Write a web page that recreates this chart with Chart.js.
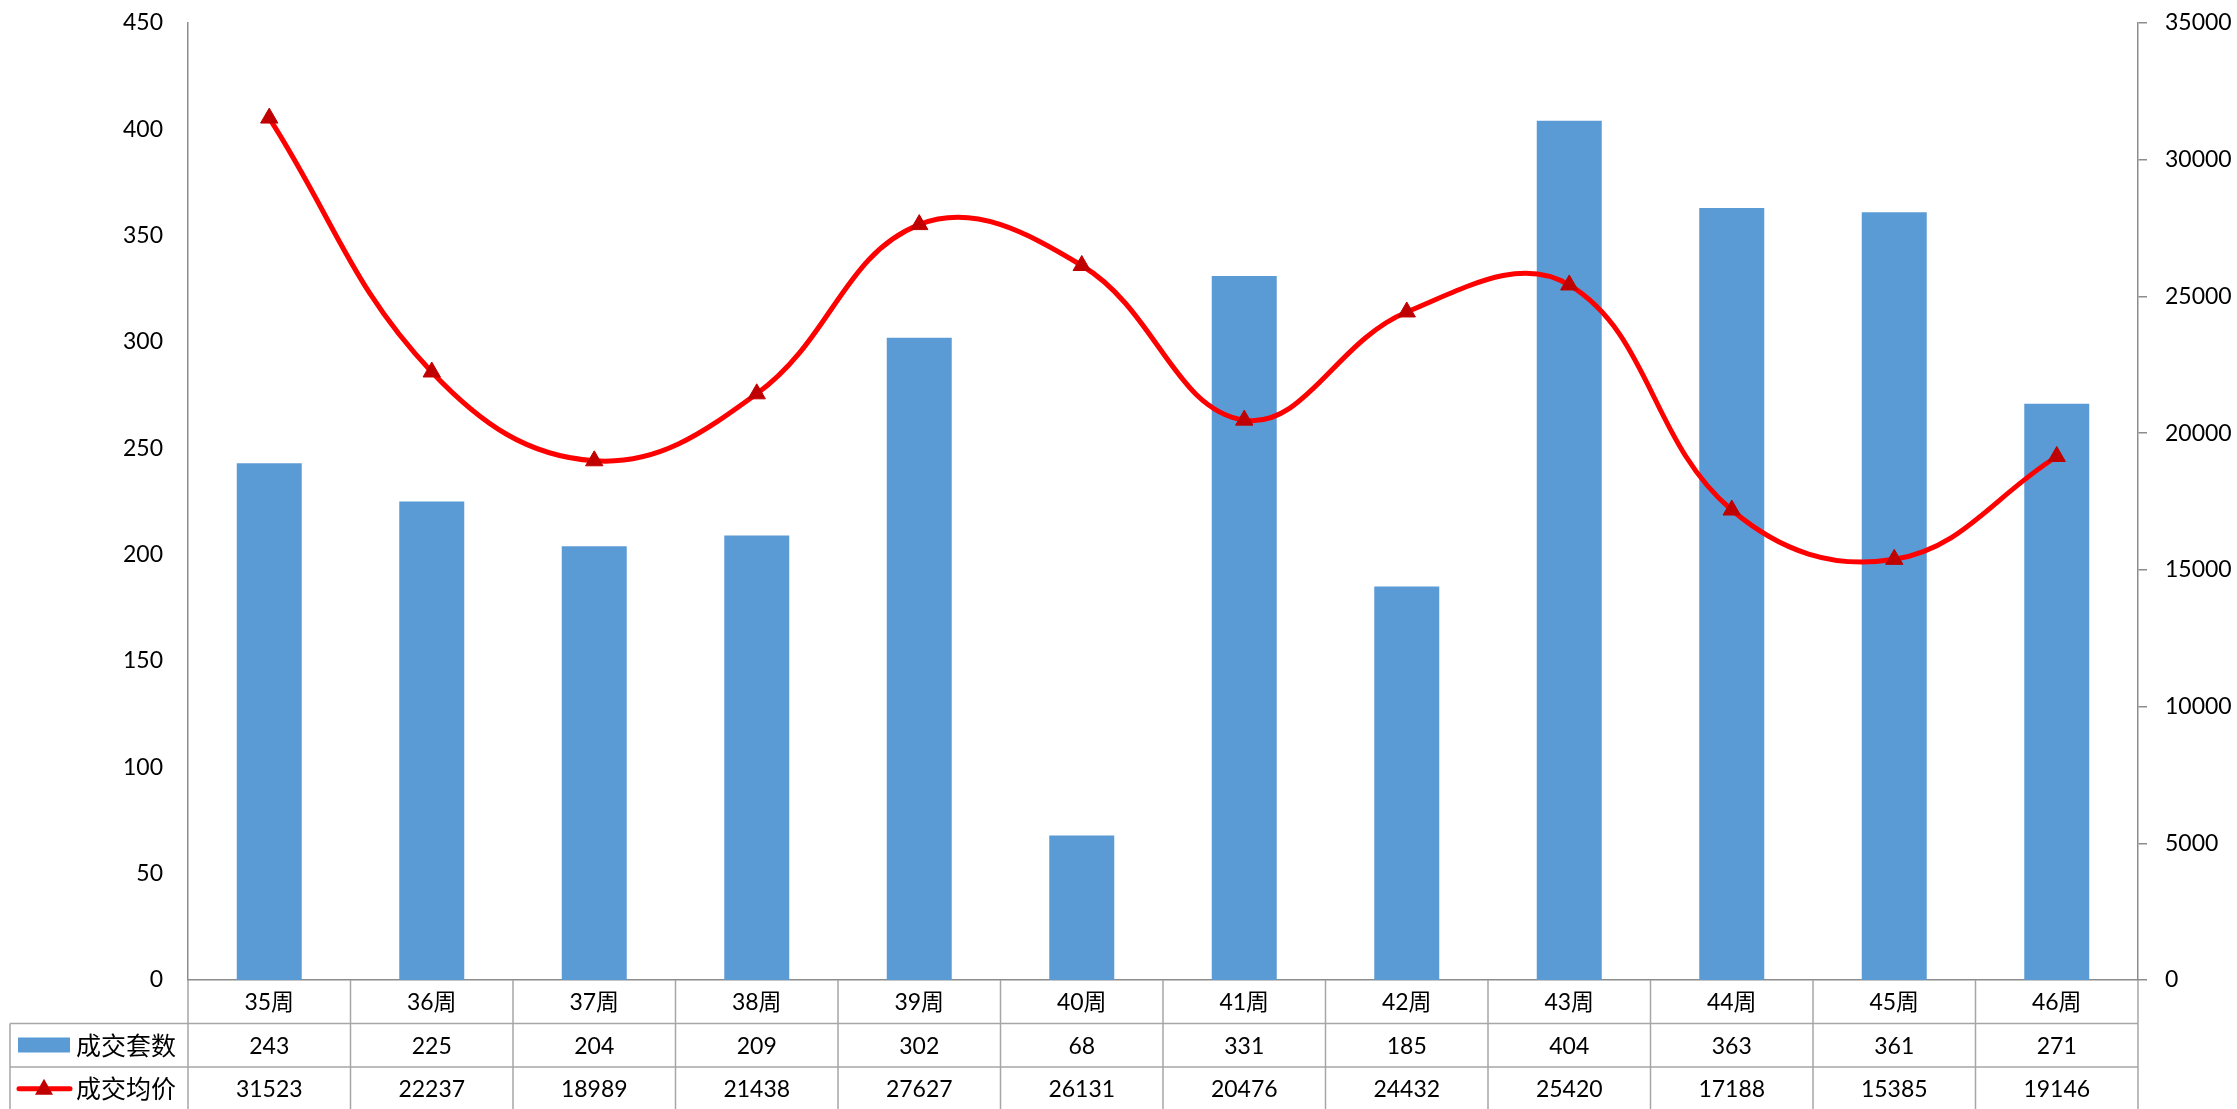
<!DOCTYPE html>
<html>
<head>
<meta charset="utf-8">
<script src="https://cdn.jsdelivr.net/npm/chart.js@4.4.1/dist/chart.umd.min.js"></script>
<style>
  body { margin: 0; background: #fff; }
  canvas { display: block; }
</style>
</head>
<body>
<canvas id="weekChart" width="2237" height="1109"></canvas>
<script>
const weeks = ['35周', '36周', '37周', '38周', '39周', '40周', '41周', '42周', '43周', '44周', '45周', '46周'];
const dealCount = [243, 225, 204, 209, 302, 68, 331, 185, 404, 363, 361, 271];
const avgPrice = [31523, 22237, 18989, 21438, 27627, 26131, 20476, 24432, 25420, 17188, 15385, 19146];
const countName = '成交套数';
const priceName = '成交均价';

const barColor = '#5B9BD5';
const lineColor = '#FF0000';
const markerColor = '#C00000';
const axisColor = '#8C8C8C';
const tableColor = '#A6A6A6';
const numFont = "23px Lato, 'Noto Sans CJK SC', sans-serif";
const cjkFont = "25px 'Noto Sans CJK SC', sans-serif";

// data table under the plot, with legend keys in the first column
const tablePlugin = {
  id: 'dataTable',
  afterDraw(chart) {
    const ctx = chart.ctx;
    const x = chart.scales.x;
    const top = chart.chartArea.bottom;
    const rowH = 43.5;
    const row1 = top + rowH;
    const row2 = top + rowH * 2;
    const bottom = chart.height;
    const tableLeft = 10;
    const colW = (x.right - x.left) / weeks.length;

    ctx.save();
    ctx.strokeStyle = tableColor;
    ctx.lineWidth = 1.5;
    ctx.beginPath();
    ctx.moveTo(tableLeft, row1); ctx.lineTo(x.right, row1);
    ctx.moveTo(tableLeft, row2); ctx.lineTo(x.right, row2);
    ctx.moveTo(tableLeft, row1); ctx.lineTo(tableLeft, bottom);
    for (let i = 0; i <= weeks.length; i++) {
      const cx = x.left + colW * i;
      ctx.moveTo(cx, top); ctx.lineTo(cx, bottom);
    }
    ctx.stroke();

    ctx.fillStyle = '#000';
    ctx.textAlign = 'center';
    ctx.textBaseline = 'middle';
    ctx.font = numFont;
    weeks.forEach((w, i) => {
      const cx = x.getPixelForValue(i);
      ctx.fillText(w, cx, top + rowH / 2 + 1);
      ctx.fillText(String(dealCount[i]), cx, row1 + rowH / 2 + 1);
      ctx.fillText(String(avgPrice[i]), cx, row2 + rowH / 2 + 1);
    });

    // legend keys
    ctx.fillStyle = barColor;
    ctx.fillRect(18, row1 + 14, 52, 15);
    const ly = row2 + rowH / 2;
    ctx.strokeStyle = lineColor;
    ctx.lineWidth = 5;
    ctx.lineCap = 'round';
    ctx.beginPath();
    ctx.moveTo(19, ly); ctx.lineTo(70, ly);
    ctx.stroke();
    ctx.fillStyle = markerColor;
    ctx.beginPath();
    ctx.moveTo(44, ly - 10);
    ctx.lineTo(53, ly + 6);
    ctx.lineTo(35, ly + 6);
    ctx.closePath();
    ctx.fill();

    ctx.fillStyle = '#000';
    ctx.textAlign = 'left';
    ctx.font = cjkFont;
    ctx.fillText(countName, 76, row1 + rowH / 2);
    ctx.fillText(priceName, 76, ly);
    ctx.restore();
  }
};

function fixWidth(w) {
  return scale => {
    scale.width = w;
    scale.paddingTop = 0;
    scale.paddingBottom = 0;
  };
}

const ctx = document.getElementById('weekChart').getContext('2d');
const chart = new Chart(ctx, {
  data: {
    labels: weeks,
    datasets: [{
      type: 'line',
      label: priceName,
      data: avgPrice,
      yAxisID: 'yPrice',
      borderColor: lineColor,
      borderWidth: 5,
      tension: 0.4,
      pointStyle: 'triangle',
      pointRadius: 10,
      pointBackgroundColor: markerColor,
      pointBorderColor: markerColor,
      pointBorderWidth: 1,
      order: 0
    }, {
      type: 'bar',
      label: countName,
      data: dealCount,
      yAxisID: 'yCount',
      backgroundColor: barColor,
      categoryPercentage: 1,
      barPercentage: 0.4,
      order: 1
    }]
  },
  options: {
    responsive: false,
    animation: false,
    layout: { padding: { top: 23, left: 0, right: 0, bottom: 0 } },
    plugins: {
      legend: { display: false },
      tooltip: { enabled: false }
    },
    scales: {
      x: {
        grid: { display: false, drawTicks: false },
        ticks: { display: false },
        border: { color: axisColor, width: 1.5 },
        afterFit(scale) { scale.height = 129; }
      },
      yCount: {
        position: 'left',
        min: 0,
        max: 450,
        ticks: { stepSize: 50, color: '#000', font: { family: 'Lato', size: 23 }, padding: 25 },
        grid: { display: false, drawTicks: false },
        border: { color: axisColor, width: 1.5 },
        afterFit: fixWidth(188)
      },
      yPrice: {
        position: 'right',
        min: 0,
        max: 35000,
        ticks: {
          stepSize: 5000, color: '#000', font: { family: 'Lato', size: 23 }, padding: 18,
          callback: v => String(v)
        },
        grid: { drawOnChartArea: false, tickLength: 9, color: axisColor, lineWidth: 1.5 },
        border: { color: axisColor, width: 1.5 },
        afterFit: fixWidth(99)
      }
    }
  },
  plugins: [tablePlugin]
});
</script>
</body>
</html>
